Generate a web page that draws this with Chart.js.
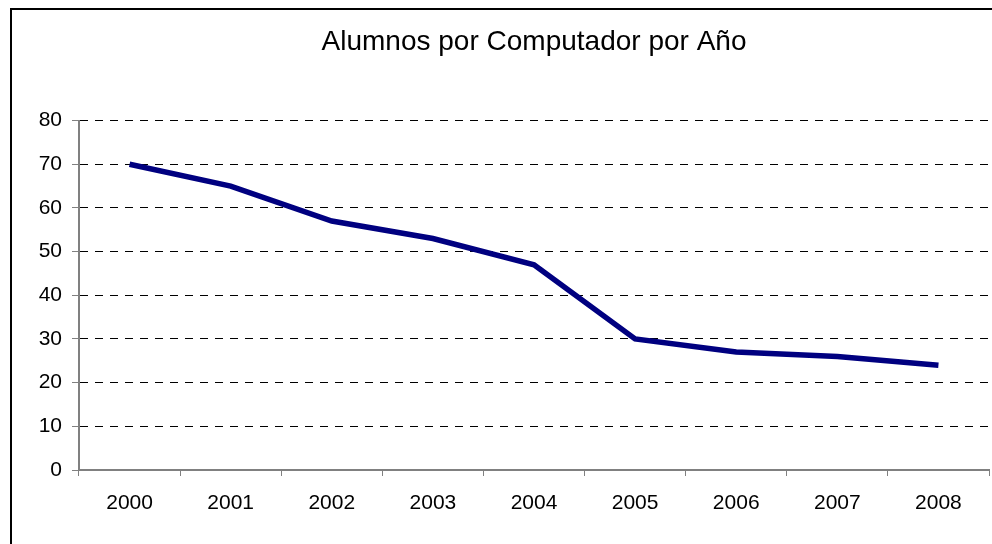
<!DOCTYPE html>
<html>
<head>
<meta charset="utf-8">
<script src="https://cdn.jsdelivr.net/npm/chart.js@4.4.0/dist/chart.umd.min.js"></script>
<style>
  html, body { margin: 0; padding: 0; background: #fff; overflow: hidden; }
  #wrap { width: 992px; height: 544px; position: relative; }
</style>
</head>
<body>
<div id="wrap"><canvas id="alumnos_chart"></canvas></div>
<script>
// data
const years = ["2000", "2001", "2002", "2003", "2004", "2005", "2006", "2007", "2008"];
const alumnosPorComputador = [70, 65, 57, 53, 47, 30, 27, 26, 24];
const yTicks = [0, 10, 20, 30, 40, 50, 60, 70, 80];
const chartTitle = "Alumnos por Computador por Año";

var canvas = document.getElementById("alumnos_chart");

// outer frame like the spreadsheet chart border (runs off right & bottom)
const frame = {
  id: "frame",
  afterDraw(chart) {
    const ctx = chart.ctx;
    ctx.save();
    ctx.strokeStyle = "#000";
    ctx.lineWidth = 2;
    ctx.strokeRect(11, 9, 1100, 700);
    ctx.restore();
  },
};

const chart = new Chart(canvas, {
  type: "line",
  data: {
    labels: years,
    datasets: [
      {
        label: "Alumnos por computador",
        data: alumnosPorComputador,
        borderColor: "#000080",
        borderWidth: 5.5,
        pointRadius: 0,
        tension: 0,
        fill: false,
      },
    ],
  },
  options: {
    responsive: true,
    maintainAspectRatio: false,
    animation: false,
    layout: { padding: { left: 0, right: 3, top: 0, bottom: 0 } },
    plugins: {
      legend: { display: false },
      tooltip: { enabled: false },
      title: {
        display: true,
        fullSize: false,
        text: chartTitle,
        color: "#000",
        font: { size: 28, weight: "normal", family: "'Liberation Sans', Arial, sans-serif" },
        padding: { top: 25, bottom: 62 },
      },
    },
    scales: {
      x: {
        offset: true,
        grid: { offset: true, drawOnChartArea: false, tickLength: 6, tickColor: "#808080" },
        border: { color: "#808080", width: 2 },
        ticks: {
          color: "#000",
          padding: 15,
          maxRotation: 0,
          font: { size: 21, family: "'Liberation Sans', Arial, sans-serif" },
        },
        afterFit: (s) => { s.height = 74; },
      },
      y: {
        min: 0,
        max: 80,
        afterBuildTicks: (s) => { s.ticks = yTicks.map((v) => ({ value: v })); },
        grid: {
          color: (c) => (c.tick && c.tick.value === 0 ? "rgba(0,0,0,0)" : "#000"),
          tickColor: "#808080",
          tickLength: 7,
        },
        border: { color: "#808080", width: 2, dash: [8, 7] },
        ticks: {
          color: "#000",
          padding: 10,
          font: { size: 21, family: "'Liberation Sans', Arial, sans-serif" },
        },
        afterFit: (s) => { s.width = 79; },
      },
    },
  },
  plugins: [frame],
});
</script>
</body>
</html>
